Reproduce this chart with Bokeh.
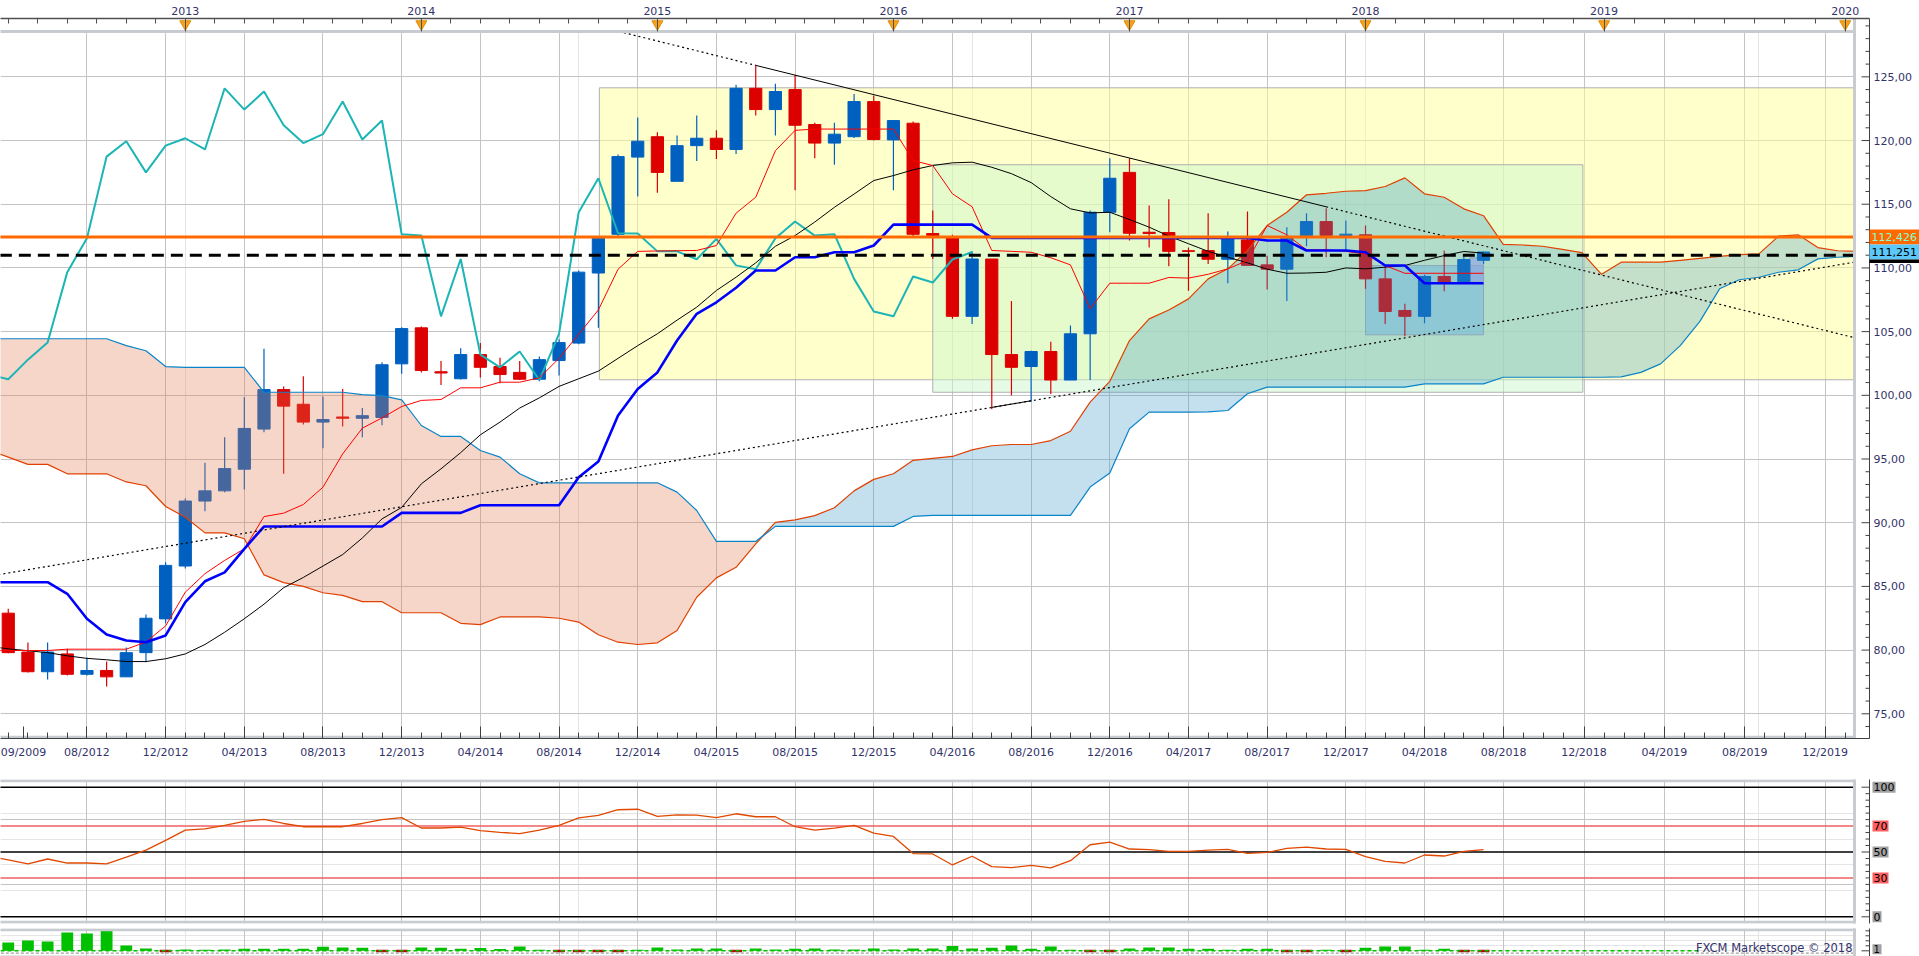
import numpy as np
from bokeh.plotting import figure
from bokeh.models import Range1d, LinearAxis, FixedTicker, Grid
from bokeh.layouts import column
from bokeh.embed import file_html
from bokeh.resources import INLINE
from bokeh.core.properties import value

# ---------------- data (x = months since Jan 2013) ----------------
candle_m = list(range(-9, 67))
opens = [82.9, 79.85, 78.3, 79.7, 78.1, 78.4, 77.9, 79.8, 82.45, 86.6, 91.7, 92.5, 94.2, 97.35, 100.45, 99.3,
         97.9, 98.3, 98.2, 98.26, 102.47, 105.3, 101.85, 101.3, 103.2, 102.26, 101.8, 101.26, 102.73, 104.1,
         109.6, 112.64, 118.7, 120.3, 116.8, 119.6, 120.18, 119.3, 124.1, 122.43, 124.0, 121.26, 119.8, 120.3,
         123.06, 120.05, 121.36, 112.7, 112.4, 106.2, 110.7, 103.2, 102.26, 103.44, 101.2, 104.83, 114.37,
         117.5, 112.8, 112.78, 111.35, 111.36, 110.68, 112.2, 110.24, 109.9, 112.54, 113.64, 112.55, 112.6,
         109.14, 106.66, 106.2, 109.33, 108.85, 110.6]
highs = [83.25, 80.6, 80.6, 80.1, 79.4, 79.1, 80.2, 82.8, 86.9, 91.9, 94.7, 96.7, 99.85, 103.65, 100.7, 101.5,
         99.9, 100.5, 99.0, 102.6, 105.35, 105.4, 102.7, 103.7, 104.1, 102.94, 102.7, 103.05, 104.4, 109.8,
         112.4, 118.9, 121.8, 120.65, 120.4, 121.96, 120.8, 124.37, 125.9, 124.45, 125.15, 121.4, 121.4, 123.66,
         123.53, 121.6, 121.5, 114.5, 112.6, 111.3, 110.7, 107.4, 103.5, 104.2, 105.48, 114.5, 118.6, 118.6,
         114.9, 115.4, 111.6, 114.3, 112.86, 114.43, 110.95, 113.2, 114.3, 114.69, 113.72, 113.33, 110.2,
         107.18, 109.48, 111.37, 110.9, 111.29]
lows = [79.75, 78.25, 77.7, 78.0, 78.0, 77.15, 77.9, 79.05, 82.1, 86.4, 90.9, 92.4, 92.6, 97.1, 93.85, 97.7,
        95.85, 97.55, 96.7, 97.65, 101.7, 101.8, 100.8, 101.25, 101.4, 100.95, 101.2, 101.1, 101.55, 104.0,
        105.3, 112.4, 115.6, 115.9, 116.8, 118.4, 118.56, 118.95, 121.96, 120.4, 116.1, 118.6, 118.1, 120.2,
        120.0, 116.1, 112.5, 110.7, 106.0, 105.6, 98.9, 100.0, 99.5, 100.1, 101.2, 101.2, 112.8, 112.15,
        111.6, 110.13, 108.2, 110.3, 108.8, 110.2, 108.3, 107.4, 111.7, 110.84, 111.42, 108.36, 105.6,
        104.64, 105.66, 108.17, 108.85, 110.32]
closes = [79.8, 78.3, 79.85, 78.1, 78.4, 77.9, 79.8, 82.5, 86.65, 91.7, 92.5, 94.25, 97.4, 100.45, 99.15, 97.9,
          98.1, 98.2, 98.4, 102.4, 105.24, 101.95, 101.75, 103.2, 102.2, 101.63, 101.26, 102.8, 104.14, 109.67,
          112.33, 118.74, 119.95, 117.5, 119.6, 120.18, 119.3, 124.1, 122.43, 123.85, 121.2, 119.8, 120.5,
          123.06, 120.08, 121.57, 112.64, 112.55, 106.2, 110.7, 103.2, 102.2, 103.44, 101.2, 104.83, 114.37,
          117.04, 112.72, 112.7, 111.3, 111.3, 110.68, 112.28, 110.2, 109.9, 112.33, 113.64, 112.54, 112.65,
          109.14, 106.58, 106.2, 109.33, 108.85, 110.66, 111.25]

line_m = list(range(-10, 67))
tenkan = [79.97, 79.97, 79.97, 79.97, 80.07, 80.07, 80.07, 80.07, 80.63, 81.9, 84.55, 86.0, 87.04, 87.95, 90.48,
          90.75, 91.43, 92.79, 95.4, 97.42, 98.23, 99.12, 99.6, 99.67, 100.59, 100.59, 101.03, 101.03, 101.37,
          102.9, 104.8, 106.7, 109.9, 111.3, 111.33, 111.35, 111.37, 111.76, 114.3, 115.55, 119.2, 120.8, 120.9,
          120.9, 120.9, 120.9, 120.9, 118.43, 118.04, 115.82, 114.8, 111.37, 111.3, 111.23, 110.8, 110.24, 106.8,
          108.8, 108.8, 108.8, 109.25, 109.2, 109.5, 109.93, 110.58, 113.33, 112.6, 111.42, 111.42, 111.3, 111.1,
          110.19, 109.58, 109.58, 109.58, 109.58, 109.58]
kijun = [85.33, 85.33, 85.33, 85.33, 84.42, 82.46, 81.23, 80.75, 80.62, 81.15, 83.76, 85.4, 86.1, 87.95, 89.7,
         89.7, 89.7, 89.7, 89.7, 89.7, 89.7, 90.77, 90.77, 90.77, 90.77, 91.37, 91.37, 91.37, 91.37, 91.37, 93.57,
         94.8, 98.41, 100.5, 101.8, 104.3, 106.4, 107.3, 108.44, 109.8, 109.8, 110.84, 110.84, 111.23, 111.23,
         111.76, 113.4, 113.4, 113.4, 113.4, 113.4, 112.36, 112.36, 112.36, 112.36, 112.36, 112.36, 112.36,
         112.36, 112.36, 112.36, 112.36, 112.36, 112.36, 112.36, 112.15, 112.15, 111.37, 111.37, 111.37, 111.23,
         110.19, 110.19, 108.8, 108.8, 108.8, 108.8]
avg_line = [80.3, 80.1, 79.95, 79.8, 79.55, 79.35, 79.24, 79.1, 79.1, 79.32, 79.7, 80.44, 81.4, 82.46, 83.6, 84.9,
            85.7, 86.6, 87.5, 88.8, 90.3, 91.2, 93.05, 94.23, 95.5, 96.9, 97.9, 99.0, 99.8, 100.7, 101.3, 101.9,
            102.9, 103.9, 104.83, 105.9, 106.92, 108.23, 109.27, 110.4, 111.7, 112.54, 113.6, 114.76, 115.8,
            116.86, 117.25, 117.7, 118.04, 118.25, 118.3, 117.9, 117.4, 116.7, 115.6, 114.64, 114.32, 114.37,
            113.8, 113.2, 112.5, 111.9, 111.3, 110.84, 110.4, 109.9, 109.58, 109.6, 109.66, 110.0, 109.93,
            110.06, 110.19, 110.6, 110.97, 111.29, 111.16]

cloud_m = list(range(-10, 86))
span_a = [95.7, 95.15, 94.58, 94.58, 93.84, 93.84, 93.84, 93.2, 92.9, 91.27, 90.43, 89.2, 89.2, 88.74, 85.9,
          85.3, 85.0, 84.5, 84.3, 83.8, 83.8, 82.93, 82.93, 82.93, 82.1, 82.0, 82.6, 82.6, 82.6, 82.5, 82.2,
          81.2, 80.62, 80.44, 80.57, 81.54, 84.15, 85.67, 86.5, 88.34, 90.03, 90.22, 90.56, 91.17, 92.5, 93.4,
          93.84, 94.9, 95.05, 95.2, 95.72, 96.04, 96.14, 96.14, 96.45, 97.18, 99.46, 101.1, 104.3, 106.0, 106.7,
          107.57, 109.14, 109.93, 111.37, 113.33, 114.37, 115.74, 115.86, 116.02, 116.07, 116.39, 117.07,
          115.82, 115.55, 114.64, 114.1, 111.85, 111.8, 111.7, 111.45, 111.2, 109.5, 110.45, 110.45, 110.45,
          110.6, 110.75, 110.9, 111.05, 111.1, 112.5, 112.6, 111.6, 111.35, 111.3]
span_b = [104.44, 104.44, 104.44, 104.44, 104.44, 104.44, 104.44, 103.9, 103.5, 102.26, 102.2, 102.2, 102.2,
          102.2, 100.24, 100.24, 100.24, 100.24, 100.24, 100.05, 99.98, 99.64, 97.63, 96.77, 96.77, 95.67,
          95.15, 93.84, 93.13, 93.13, 93.13, 93.13, 93.13, 93.13, 93.13, 92.4, 90.96, 88.53, 88.53, 88.53,
          89.71, 89.71, 89.71, 89.71, 89.71, 89.71, 89.71, 90.49, 90.57, 90.57, 90.57, 90.57, 90.57, 90.57,
          90.57, 90.57, 92.8, 93.9, 97.37, 98.68, 98.68, 98.68, 98.7, 98.81, 100.12, 100.64, 100.64, 100.64,
          100.64, 100.64, 100.64, 100.64, 100.64, 100.9, 100.9, 100.9, 100.9, 101.42, 101.42, 101.42, 101.42,
          101.42, 101.42, 101.45, 101.8, 102.47, 103.9, 105.8, 108.36, 109.07, 109.27, 109.66, 109.85, 110.71,
          110.84, 110.9]

lag_shift = 26  # lagging line = close plotted 26 months back

rsi_m = list(range(-10, 67))
rsi = [46.5, 44.0, 40.8, 44.6, 41.5, 41.5, 40.8, 46.0, 51.5, 59.0, 66.9, 67.8, 70.5, 73.6, 75.2, 72.0, 69.5,
       69.5, 69.5, 72.0, 75.0, 76.5, 68.5, 68.5, 69.2, 66.5, 65.1, 64.2, 66.8, 70.5, 76.3, 78.2, 82.6, 83.0,
       77.5, 78.6, 78.5, 76.5, 79.5, 77.2, 77.2, 69.5, 66.9, 68.5, 70.5, 64.5, 62.0, 48.8, 48.5, 40.0, 46.7,
       38.7, 38.0, 39.7, 37.7, 43.3, 55.6, 57.7, 52.3, 51.8, 50.5, 50.5, 51.5, 52.0, 49.0, 49.7, 52.8, 53.8,
       52.3, 52.0, 46.4, 42.8, 41.5, 47.7, 46.9, 50.5, 51.8]
rsi_levels = [100, 70, 50, 30, 0]

volume = [8.3, 10.3, 9.3, 18.3, 17.3, 21.3, 5.3, 2.3, -1, 1.3, 1.0, 1.3, 2.0, 2.0, 2.0, 2.0, 4.0, 3.3, 3.0, -1,
          -1, 3.3, 3.0, 2.0, 2.7, 1.7, 4.3, 1.0, -1, -1, -1, -1, 1.0, 3.3, 1.3, 2.3, 2.3, -1, 2.3, 1.3, 2.0,
          2.3, 1.3, 1.3, 2.3, 1.3, 2.3, 2.3, 4.7, 2.3, 3.0, 5.3, 2.0, 4.3, 1.0, -1, -1, 2.3, 3.3, 3.3, 2.0,
          2.0, 1.0, 2.0, 2.0, -1, -1, 1.0, -1, 3.0, 4.3, 4.3, 1.0, 2.0, -1, -1]

# drawn objects
zone_left = [21.05, 38.0, 60.0, 65.3]
zone_right = [86.0, 71.05, 66.0, 66.0]
zone_top = [124.14, 118.1, 110.19, 110.8]
zone_bottom = [101.22, 100.24, 104.75, 108.88]
trend_down_m = [29, 58]
trend_down_p = [125.9, 114.8]
trend_up_m = [41, 43]
trend_up_p = [99.05, 99.57]
level_orange = 112.426
level_dashed = 111.0
last_price = 111.251

year_m = [0, 12, 24, 36, 48, 60, 72, 84]
year_labels = ["2013", "2014", "2015", "2016", "2017", "2018", "2019", "2020"]
date_m = list(range(-5, 84, 4))
date_labels = ["08/2012", "12/2012", "04/2013", "08/2013", "12/2013", "04/2014", "08/2014", "12/2014",
               "04/2015", "08/2015", "12/2015", "04/2016", "08/2016", "12/2016", "04/2017", "08/2017",
               "12/2017", "04/2018", "08/2018", "12/2018", "04/2019", "08/2019", "12/2019"]
first_label = "09/2009"
price_ticks = [75, 80, 85, 90, 95, 100, 105, 110, 115, 120, 125]

# ---------------- layout constants ----------------
LAST_BAR = 66
FUT = 1.0215                   # future months are drawn slightly wider than past bars


def xp(m):
    return m if m <= LAST_BAR else LAST_BAR + (m - LAST_BAR) * FUT


X0, X1 = -9.395, 84.91         # chart area (months)
CW = 1855                      # chart area width px
FWT = 1919                     # full frame width px (chart + price scale)
ppm = CW / (X1 - X0)
XR = X0 + FWT / ppm
XA = X1 + 14 / ppm             # price scale line
Y0, Y1 = 73.06, 129.58
BAND = 128.56
FH = 720
ppu = FH / (Y1 - Y0)
FONT = "DejaVu Sans"
TXT = "#33336b"
GRID = "#c4c4c4"
BORDER = "#c8ccd0"
AXC = "#404040"
UP, DOWN = "#0060c0", "#dc0000"

grid_x = [xp(m) for m in date_m]
xr = Range1d(X0, XR)


def base_fig(fh, yr, top, bottom):
    f = figure(frame_width=FWT, frame_height=fh, x_range=xr, y_range=yr, x_axis_location=None,
               y_axis_location=None, toolbar_location=None, output_backend="svg", min_border_left=0,
               min_border_right=0, min_border_top=top, min_border_bottom=bottom,
               background_fill_color="white", outline_line_color=None)
    f.add_layout(Grid(dimension=0, ticker=FixedTicker(ticks=grid_x), grid_line_color=GRID))
    return f


def price_scale(f, ylo, yhi, majors, minors):
    # white area right of the chart, border line, scale line and ticks
    f.quad(left=X1, right=XR + 1, bottom=ylo - 10, top=yhi + 10, fill_color="white", line_color=None)
    f.segment(x0=[X1 - 1 / ppm], y0=[ylo - 10], x1=[X1 - 1 / ppm], y1=[yhi + 10], line_color=BORDER,
              line_width=3)
    f.segment(x0=[XA], y0=[ylo - 10], x1=[XA], y1=[yhi + 10], line_color=AXC, line_width=1)
    f.segment(x0=[XA - 8 / ppm] * len(majors), y0=majors, x1=[XA] * len(majors), y1=majors,
              line_color=AXC, line_width=1)
    f.segment(x0=[XA - 4 / ppm] * len(minors), y0=minors, x1=[XA] * len(minors), y1=minors,
              line_color=AXC, line_width=1)


def level_tag(f, y, text, ppu_f, bg, fg, half_h=5.5, size="11px"):
    w = (7 * len(text) + 2) / ppm
    f.quad(left=XA + 3 / ppm, right=XA + 3 / ppm + w, bottom=y - half_h / ppu_f, top=y + half_h / ppu_f,
           fill_color=bg, line_color=None)
    f.text(x=[XA + 4 / ppm], y=[y], text=[text], text_align="left", text_baseline="middle",
           text_font=value(FONT), text_font_size=size, text_color=fg)


def price_tag(f, y, text, bg, fg):
    f.quad(left=XA, right=XR + 1, bottom=y - 7.5 / ppu, top=y + 7.5 / ppu, fill_color=bg, line_color=None)
    f.text(x=[XA + 2 / ppm], y=[y], text=[text], text_align="left", text_baseline="middle",
           text_font=value(FONT), text_font_size="11px", text_color=fg)


# ---------------- main chart ----------------
p = base_fig(FH, Range1d(Y0, Y1), 18, 41)
p.add_layout(Grid(dimension=1, ticker=FixedTicker(ticks=price_ticks), grid_line_color=GRID))

fills = ["#ffff99", "#ccf8cc", "#7fc3e8", "#b4a8f0"]
alphas = [0.5, 0.5, 0.5, 0.6]
for i in range(4):
    p.quad(left=zone_left[i], right=zone_right[i], top=zone_top[i], bottom=zone_bottom[i],
           fill_color=fills[i], fill_alpha=alphas[i], line_color="#b0b0b0", line_width=1)

o = np.array(opens); c = np.array(closes); h = np.array(highs); l = np.array(lows)
cm = np.array(candle_m, dtype=float)
col = np.where(c >= o, UP, DOWN)
p.segment(x0=cm, y0=l, x1=cm, y1=h, line_color=col, line_width=1.2)
p.vbar(x=cm, width=0.62, top=np.maximum(o, c), bottom=np.minimum(o, c), fill_color=col, line_color=col,
       line_width=1)

sa = np.array(span_a); sb = np.array(span_b)
p.varea(x=cloud_m, y1=sa, y2=np.maximum(sa, sb), fill_color="#e67850", fill_alpha=0.3)
p.varea(x=cloud_m, y1=sb, y2=np.maximum(sa, sb), fill_color="#3c96c8", fill_alpha=0.3)
p.line(cloud_m, sa, line_color="#e04000", line_width=1.2)
p.line(cloud_m, sb, line_color="#0a84c8", line_width=1.2)

lag_m = [m for m in line_m if candle_m[0] <= m + lag_shift <= candle_m[-1]]
lag_v = [closes[m + lag_shift - candle_m[0]] for m in lag_m]
p.line(lag_m, lag_v, line_color="#1cb5b5", line_width=2)
p.line(line_m, avg_line, line_color="black", line_width=1)
p.line(line_m, tenkan, line_color="#ff0000", line_width=1)
p.line(line_m, kijun, line_color="#0000ff", line_width=2.6)

# trend lines
sd = (trend_down_p[1] - trend_down_p[0]) / (trend_down_m[1] - trend_down_m[0])
xs_d = trend_down_m[0] + (BAND - trend_down_p[0]) / sd
p.line(trend_down_m, trend_down_p, line_color="black", line_width=1)
p.line([xs_d, trend_down_m[0]], [BAND, trend_down_p[0]], line_color="black", line_width=1.2, line_dash="2 3")
p.line([trend_down_m[1], 86], [trend_down_p[1], trend_down_p[1] + sd * (86 - trend_down_m[1])],
       line_color="black", line_width=1.2, line_dash="2 3")
su = (trend_up_p[1] - trend_up_p[0]) / (trend_up_m[1] - trend_up_m[0])
p.line([-10, 86], [trend_up_p[0] + su * (-10 - trend_up_m[0]), trend_up_p[0] + su * (86 - trend_up_m[0])],
       line_color="black", line_width=1.2, line_dash="2 3")
p.line(trend_up_m, trend_up_p, line_color="black", line_width=1)

p.line([X0 - 1, X1], [level_orange, level_orange], line_color="#ff6a00", line_width=3)
p.line([X0 - 1, X1], [level_dashed, level_dashed], line_color="black", line_width=3, line_dash="12 7")

# top band and borders
p.quad(left=X0 - 1, right=X1, bottom=BAND, top=Y1 + 1, fill_color="white", line_color=None)
p.line([X0 - 1, X1], [BAND, BAND], line_color=BORDER, line_width=3)
p.line([X0 - 1, X1], [Y0 + 1.2 / ppu, Y0 + 1.2 / ppu], line_color=BORDER, line_width=3)
year_x = [xp(m) for m in year_m]
p.scatter(year_x, [Y1 - 5.5 / ppu] * len(year_x), marker="inverted_triangle", size=11,
          fill_color="#f7a21e", line_color="#e08a00")

price_scale(p, Y0, Y1, price_ticks, [v for v in range(73, 130) if v not in price_ticks])
p.text(x=[XA + 4 / ppm] * len(price_ticks), y=price_ticks, text=[f"{v},00" for v in price_ticks],
       text_align="left", text_baseline="middle", text_font=value(FONT), text_font_size="11px",
       text_color=TXT)
price_tag(p, level_orange, f"{level_orange:.3f}".replace(".", ","), "#ff6a00", "#80ffd8")
price_tag(p, last_price, f"{last_price:.3f}".replace(".", ","), "#5cc8f8", "black")
p.quad(left=XA, right=XR + 1, top=last_price - 7.5 / ppu, bottom=last_price - 11 / ppu,
       fill_color="black", line_color=None)

top_ax = LinearAxis(ticker=FixedTicker(ticks=year_x, minor_ticks=[xp(v) for v in np.arange(-9, 85, 1.5)]),
                    major_label_overrides={x: t for x, t in zip(year_x, year_labels)},
                    bounds=(X0, XA), major_tick_in=13, major_tick_out=0, minor_tick_in=5, minor_tick_out=0,
                    axis_line_color="#505050", axis_line_width=1.5, major_tick_line_color="#505050",
                    minor_tick_line_color="#505050", major_label_text_font=FONT,
                    major_label_text_font_size="11px", major_label_text_color=TXT, major_label_standoff=4)
p.add_layout(top_ax, "above")

spacer = LinearAxis(ticker=FixedTicker(ticks=[]), major_tick_out=12, major_tick_in=0, minor_tick_out=0,
                    minor_tick_in=0, axis_line_color=None, major_label_standoff=0)
p.add_layout(spacer, "below")
first_x = X0 + 23 / ppm
date_ax = LinearAxis(ticker=FixedTicker(ticks=[first_x] + grid_x, minor_ticks=[xp(m) for m in range(-9, 85)]),
                     major_label_overrides={**{first_x: first_label},
                                            **{x: t for x, t in zip(grid_x, date_labels)}},
                     bounds=(X0, XA), major_tick_in=12, major_tick_out=0, minor_tick_in=6, minor_tick_out=0,
                     axis_line_color=AXC, major_tick_line_color=AXC, minor_tick_line_color=AXC,
                     major_label_text_font=FONT, major_label_text_font_size="11px",
                     major_label_text_color=TXT, major_label_standoff=7)
p.add_layout(date_ax, "below")

# ---------------- RSI panel ----------------
R0, R1 = -5.17, 105.94
RH = 144
ppu2 = RH / (R1 - R0)
p2 = base_fig(RH, Range1d(R0, R1), 0, 5)
p2.add_layout(Grid(dimension=1, ticker=FixedTicker(ticks=[25, 75]), grid_line_color=GRID))
for lv in rsi_levels:
    p2.line([X0 - 1, X1], [lv, lv], line_color="black" if lv in (0, 50, 100) else "#f06060", line_width=1.5)
p2.line(rsi_m, rsi, line_color="#e04800", line_width=1.3)
price_scale(p2, R0, R1, [0, 50, 100], [v for v in range(5, 100, 5) if v != 50])
p2.line([X0 - 1, X1], [R1 - 1.2 / ppu2] * 2, line_color=BORDER, line_width=3)
p2.line([X0 - 1, X1], [R0 + 1.2 / ppu2] * 2, line_color=BORDER, line_width=3)
for lv in rsi_levels:
    level_tag(p2, lv, str(lv), ppu2, "#a0a0a0" if lv in (0, 50, 100) else "#ff6060", "black")

# ---------------- volume panel ----------------
V0, V1 = -5.7, 22.3
VH = 28
ppu3 = VH / (V1 - V0)
p3 = base_fig(VH, Range1d(V0, V1), 0, 0)
vv = np.array(volume)
vm = np.array(candle_m, dtype=float)
up_mask = vv > 0
p3.vbar(x=vm[up_mask], width=0.6, top=vv[up_mask], bottom=0, fill_color="#00c000", line_color=None)
p3.vbar(x=vm[~up_mask], width=0.6, top=1, bottom=vv[~up_mask] - 0.5, fill_color="#c00000", line_color=None)
p3.line([X0, 77], [0, 0], line_color="#00c000", line_width=1.5, line_dash="4 3")
p3.line([X0 - 1, X1], [-2.4, -2.4], line_color="#a0a0a0", line_width=1.2, line_dash="3 2")
p3.text(x=[X1 - 3 / ppm], y=[2.6], text=["FXCM Marketscope \u00a9 2018"], text_align="right",
        text_baseline="middle", text_font=value(FONT), text_font_size="11.5px", text_color=TXT)
price_scale(p3, V0, V1, [0], [5, 10, 15, 20])
p3.line([X0 - 1, X1], [V1 - 1.2 / ppu3] * 2, line_color=BORDER, line_width=3)
level_tag(p3, 1.5, "1", ppu3, "#a0a0a0", "black", half_h=5.0, size="10px")

layout = column(p, p2, p3)
open("out.html", "w").write(file_html(layout, INLINE))
